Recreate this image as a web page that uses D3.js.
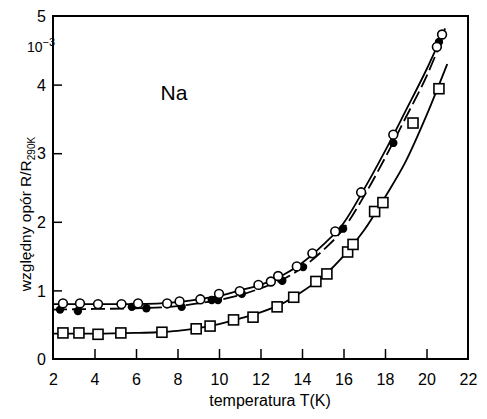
<!DOCTYPE html>
<html><head><meta charset="utf-8">
<script src="https://cdn.jsdelivr.net/npm/d3@7/dist/d3.min.js"></script>
<style>body{margin:0;background:#fff}svg{display:block}text{font-family:"Liberation Sans",Arial,sans-serif;fill:#000}</style>
</head><body>
<script>
// measured points
const openT = [2.48,3.3,4.17,5.3,6.1,7.5,8.1,9.1,10.0,11.0,11.9,12.5,12.85,13.75,14.5,15.6,16.85,18.4,20.5,20.75];
const openR = [0.81,0.81,0.80,0.80,0.81,0.81,0.84,0.87,0.95,0.99,1.08,1.13,1.21,1.35,1.54,1.86,2.43,3.27,4.55,4.73];
const filledT = [2.34,3.2,5.8,6.5,8.2,9.65,9.95,11.1,13.05,14.05,15.98,18.4,20.6];
const filledR = [0.72,0.70,0.76,0.74,0.76,0.86,0.86,0.95,1.14,1.34,1.90,3.15,4.62];
const squareT = [2.48,3.25,4.17,5.27,7.25,8.9,9.57,10.7,11.64,12.8,13.6,14.67,15.2,16.2,16.46,17.5,17.9,19.35,20.6];
const squareR = [0.38,0.38,0.36,0.38,0.39,0.44,0.48,0.57,0.61,0.76,0.90,1.13,1.24,1.56,1.67,2.15,2.28,3.44,3.94];
// fitted curves
const fitOpenT = [2,4,6,8,9,10,11,12,13,14,15,16,17,18,19,20,20.9];
const fitOpenR = [0.80,0.80,0.80,0.83,0.87,0.92,1.00,1.08,1.21,1.40,1.66,1.98,2.48,3.03,3.62,4.22,4.82];
const fitFilledT = [2,4,6,8,9,10,11,12,13,14,15,16,17,18,19,20,20.8];
const fitFilledR = [0.72,0.73,0.74,0.77,0.81,0.86,0.93,1.03,1.15,1.33,1.58,1.90,2.38,2.93,3.52,4.12,4.70];
const fitSquareT = [2,4,6,7,8,9,10,11,12,13,14,15,16,17,18,19,20,21];
const fitSquareR = [0.37,0.37,0.38,0.39,0.41,0.45,0.51,0.59,0.68,0.80,0.98,1.20,1.50,1.88,2.36,2.88,3.55,4.30];
const xTicks = [2,4,6,8,10,12,14,16,18,20,22];
const yTicks = [0,1,2,3,4,5];

const W=487,H=419;
const svg=d3.select("body").append("svg").attr("width",W).attr("height",H);
const x=d3.scaleLinear().domain([2,22]).range([53,468]);
const y=d3.scaleLinear().domain([0,5]).range([359,16]);

// frame
svg.append("rect").attr("x",x(2)).attr("y",y(5)).attr("width",x(22)-x(2)).attr("height",y(0)-y(5))
  .attr("fill","none").attr("stroke","#000").attr("stroke-width",2);

// ticks
const xa=svg.append("g").attr("transform",`translate(0,${y(0)})`)
  .call(d3.axisBottom(x).tickValues(xTicks).tickSize(-10).tickPadding(12).tickFormat(d3.format("d")));
xa.select(".domain").remove();
xa.selectAll("line").attr("stroke-width",1.5).filter(d=>d===2||d===22).remove();
xa.selectAll("text").attr("font-size",16).attr("dy","0.85em");
const ya=svg.append("g").attr("transform",`translate(${x(2)},0)`)
  .call(d3.axisLeft(y).tickValues(yTicks).tickSize(-9).tickPadding(7).tickFormat(d3.format("d")));
ya.select(".domain").remove();
ya.selectAll("line").attr("stroke-width",1.5).filter(d=>d===0||d===5).remove();
ya.selectAll("text").attr("font-size",16).attr("dy","0.36em");

// 10^-3
const ex=svg.append("text").attr("x",27).attr("y",52).attr("font-size",14);
ex.append("tspan").text("10");
ex.append("tspan").attr("dy",-6).attr("font-size",11).text("−3");

svg.append("text").attr("x",174).attr("y",100).attr("text-anchor","middle").attr("font-size",21).text("Na");

// axis labels
svg.append("text").attr("x",270).attr("y",406).attr("text-anchor","middle").attr("font-size",16).text("temperatura T(K)");
const yl=svg.append("text").attr("transform","translate(31,214) rotate(-90)").attr("text-anchor","middle").attr("font-size",15.5);
yl.append("tspan").text("względny opór R/R");
yl.append("tspan").attr("dy",4).attr("font-size",10).text("290K");

// curves
const line=d3.line().x(d=>x(d[0])).y(d=>y(d[1])).curve(d3.curveMonotoneX);
const zip=(a,b)=>a.map((v,i)=>[v,b[i]]);
svg.append("path").datum(zip(fitOpenT,fitOpenR)).attr("d",line).attr("fill","none").attr("stroke","#000").attr("stroke-width",1.8);
svg.append("path").datum(zip(fitFilledT,fitFilledR)).attr("d",line).attr("fill","none").attr("stroke","#000").attr("stroke-width",1.8).attr("stroke-dasharray","14,5");
svg.append("path").datum(zip(fitSquareT,fitSquareR)).attr("d",line).attr("fill","none").attr("stroke","#000").attr("stroke-width",1.8);

// markers
svg.append("g").selectAll("rect").data(zip(squareT,squareR)).join("rect")
  .attr("x",d=>x(d[0])-5).attr("y",d=>y(d[1])-5).attr("width",10).attr("height",10)
  .attr("fill","#fff").attr("stroke","#000").attr("stroke-width",1.6);
svg.append("g").selectAll("circle").data(zip(filledT,filledR)).join("circle")
  .attr("cx",d=>x(d[0])).attr("cy",d=>y(d[1])).attr("r",4.2).attr("fill","#000");
svg.append("g").selectAll("circle").data(zip(openT,openR)).join("circle")
  .attr("cx",d=>x(d[0])).attr("cy",d=>y(d[1])).attr("r",4.4)
  .attr("fill","#fff").attr("stroke","#000").attr("stroke-width",1.6);
</script>
</body></html>
